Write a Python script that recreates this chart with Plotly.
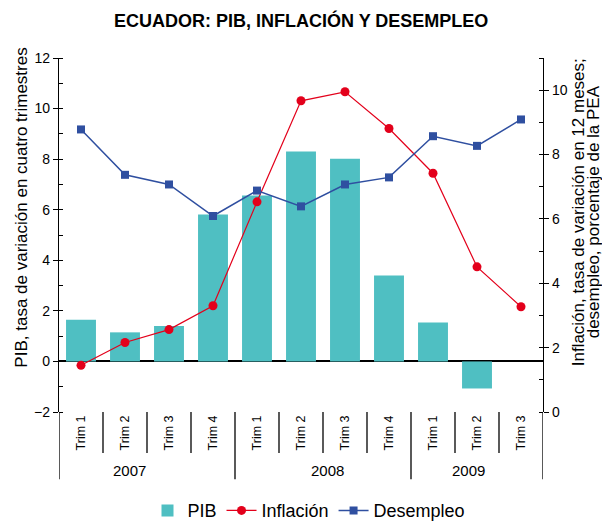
import plotly.graph_objects as go

trimestres = ["Trim 1", "Trim 2", "Trim 3", "Trim 4",
              "Trim 1", "Trim 2", "Trim 3", "Trim 4",
              "Trim 1", "Trim 2", "Trim 3"]
years = ["2007", "2008", "2009"]
pib = [1.65, 1.15, 1.40, 5.81, 6.56, 8.30, 8.02, 3.40, 1.54, -1.07, None]
inflacion = [1.45, 2.16, 2.56, 3.30, 6.53, 9.67, 9.95, 8.81, 7.42, 4.51, 3.27]
desempleo = [8.78, 7.37, 7.07, 6.09, 6.88, 6.39, 7.07, 7.29, 8.57, 8.27, 9.09]

x = list(range(len(trimestres)))
FONT = "Liberation Sans, Arial, Helvetica, sans-serif"
TEAL = "#4FBFC2"
RED = "#E3001B"
BLUE = "#2F4FA0"

fig = go.Figure()
fig.add_trace(go.Bar(x=x, y=pib, name="PIB", marker=dict(color=TEAL, line=dict(width=0)),
                     width=0.68, yaxis="y"))
fig.add_trace(go.Scatter(x=x, y=inflacion, name="Inflación", mode="lines+markers",
                         line=dict(color=RED, width=1.2),
                         marker=dict(symbol="circle", size=9, color=RED), yaxis="y2"))
fig.add_trace(go.Scatter(x=x, y=desempleo, name="Desempleo", mode="lines+markers",
                         line=dict(color=BLUE, width=1.5),
                         marker=dict(symbol="square", size=8, color=BLUE), yaxis="y2"))

shapes = []
for i in range(len(trimestres) + 1):
    xb = i - 0.5
    long = i in (0, 4, 8, 11)
    shapes.append(dict(type="line", xref="x", yref="paper", x0=xb, x1=xb,
                       y0=0, y1=-0.19 if long else -0.116,
                       line=dict(color="black", width=1.3)))

annotations = [
    dict(text="<b>ECUADOR: PIB, INFLACIÓN Y DESEMPLEO</b>", xref="paper", yref="paper",
         x=0.5, y=1.107, xanchor="center", yanchor="middle", showarrow=False,
         font=dict(size=18, color="black", family=FONT)),
    dict(text="PIB, tasa de variación en cuatro trimestres", xref="paper", yref="paper",
         x=-0.078, y=0.578, xanchor="center", yanchor="middle", textangle=-90,
         showarrow=False, font=dict(size=17, color="black", family=FONT)),
    dict(text="Inflación, tasa de variación en 12 meses;",
         xref="paper", yref="paper", x=1.075, y=0.565, xanchor="center", yanchor="middle",
         textangle=-90, showarrow=False, font=dict(size=17, color="black", family=FONT)),
    dict(text="desempleo, porcentaje de la PEA",
         xref="paper", yref="paper", x=1.106, y=0.565, xanchor="center", yanchor="middle",
         textangle=-90, showarrow=False, font=dict(size=17, color="black", family=FONT)),
]
year_pos = [1.11, 5.61, 8.8]
for yr, px in zip(years, year_pos):
    annotations.append(dict(text=yr, xref="x", yref="paper", x=px, y=-0.164,
                            xanchor="center", yanchor="middle", showarrow=False,
                            font=dict(size=15, color="black", family=FONT)))

# the page body adds an 8px margin, so the figure is drawn 8px smaller and offset
fig.update_layout(
    width=602, height=513,
    margin=dict(l=51, r=67, t=50, b=109, autoexpand=False),
    paper_bgcolor="white", plot_bgcolor="white",
    font=dict(family=FONT, color="black", size=14),
    showlegend=True,
    legend=dict(orientation="h", x=0.5, xanchor="center", xref="container",
                y=0.02, yanchor="middle", yref="container",
                font=dict(size=18, family=FONT), itemwidth=30, traceorder="normal"),
    bargap=0.32,
    xaxis=dict(range=[-0.5, 10.5], tickvals=x, ticktext=trimestres, tickangle=-90,
               showgrid=False, zeroline=False, showline=False, ticks="", automargin=False,
               tickfont=dict(size=12.5, family=FONT)),
    yaxis=dict(range=[-2, 12], dtick=2, tick0=0, showgrid=False, zeroline=True,
               zerolinecolor="black", zerolinewidth=1.5, showline=True, linecolor="black",
               linewidth=1.3, ticks="outside", ticklen=5, tickcolor="black", tickwidth=1.3,
               automargin=False,
               minor=dict(dtick=1, ticks="inside", ticklen=4, tickcolor="black", tickwidth=1.3),
               tickfont=dict(size=14, family=FONT)),
    yaxis2=dict(range=[0, 11], dtick=2, tick0=0, overlaying="y", side="right",
                showgrid=False, zeroline=False, showline=True, linecolor="black",
                linewidth=1.3, ticks="outside", ticklen=5, tickcolor="black", tickwidth=1.3,
                automargin=False,
                minor=dict(dtick=1, ticks="inside", ticklen=4, tickcolor="black", tickwidth=1.3),
                tickfont=dict(size=14, family=FONT)),
    shapes=shapes,
    annotations=annotations,
)

fig.write_html("out.html")
